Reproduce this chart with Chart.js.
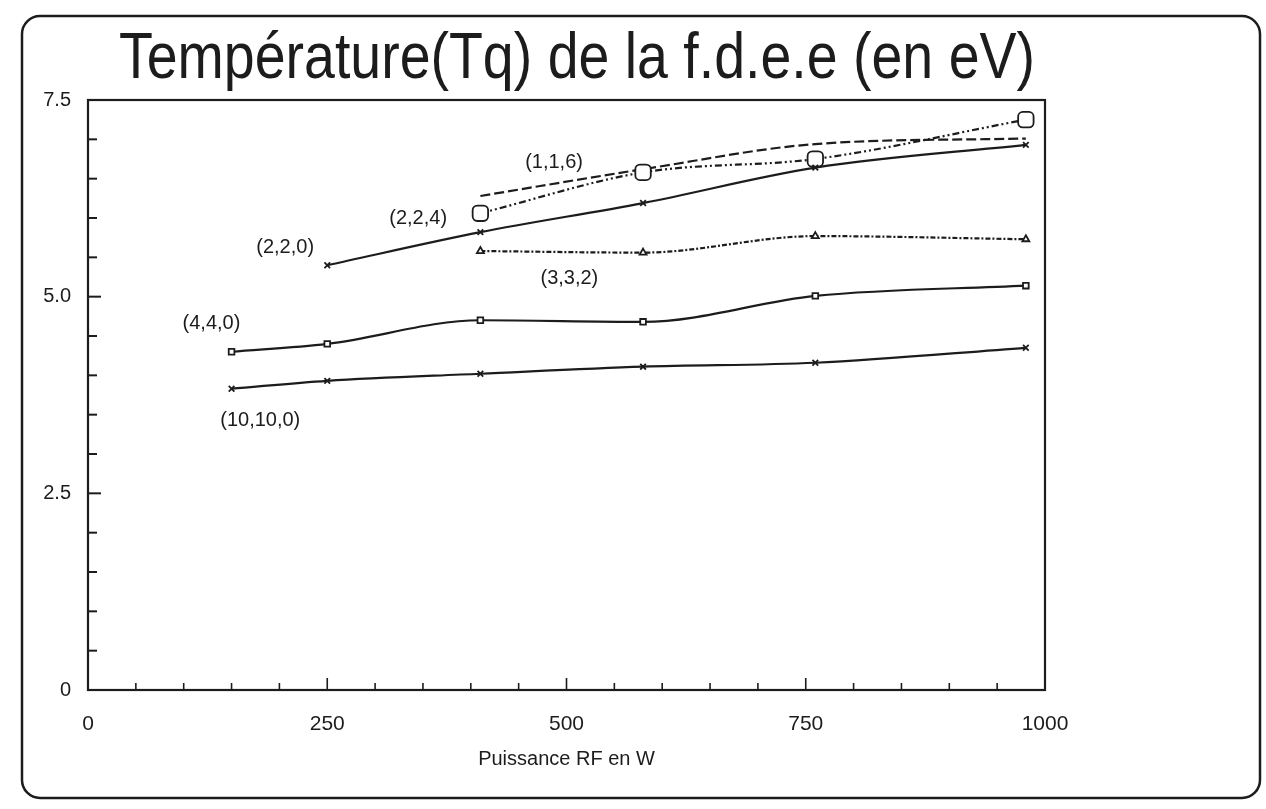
<!DOCTYPE html>
<html>
<head>
<meta charset="utf-8">
<script src="https://cdn.jsdelivr.net/npm/chart.js@4.4.1/dist/chart.umd.min.js"></script>
<style>
  html, body { margin: 0; padding: 0; background: #ffffff; }
  #wrap { width: 1266px; height: 809px; position: relative; }
</style>
</head>
<body>
<div id="wrap"><canvas id="c" width="1266" height="809"></canvas></div>
<script>
// Puissance RF (W) at which each measurement was taken
const power = [150, 250, 410, 580, 760, 980];

// Tq (eV) per discharge configuration
const tq_10_10_0 = [3.83, 3.93, 4.02, 4.11, 4.16, 4.35];
const tq_4_4_0   = [4.30, 4.40, 4.70, 4.68, 5.01, 5.14];
const tq_2_2_0   = [null, 5.40, 5.82, 6.19, 6.64, 6.93];
const tq_3_3_2   = [null, null, 5.58, 5.56, 5.77, 5.73];
const tq_2_2_4   = [null, null, 6.06, 6.58, 6.75, 7.25];
const tq_1_1_6   = [null, null, 6.28, 6.62, 6.94, 7.01];

const seriesNames = ['(10,10,0)', '(4,4,0)', '(2,2,0)', '(3,3,2)', '(2,2,4)', '(1,1,6)'];

// Where each configuration name is written, in data units (W, eV)
const labelPower = [180, 129, 206, 503, 345, 487];
const labelTq    = [3.43, 4.66, 5.62, 5.23, 5.99, 6.70];

// Axis ticks
const xMajorTicks = [0, 250, 500, 750, 1000];
const yMajorTicks = [0, 2.5, 5.0, 7.5];

const TITLE = 'Température(Tq) de la f.d.e.e (en eV)';

const INK = '#1c1c1c';
const FONT = '"Liberation Sans", "DejaVu Sans", sans-serif';

function pts(values) {
  return power.map((p, i) => ({ x: p, y: values[i] })).filter(d => d.y !== null);
}

function series(name, values, dash, style, radius) {
  return {
    label: name,
    data: pts(values),
    borderColor: INK,
    borderWidth: 2.2,
    borderDash: dash,
    pointStyle: style,
    pointRadius: radius,
    pointBorderWidth: 1.8,
    pointBorderColor: INK,
    pointBackgroundColor: 'rgba(255,255,255,1)',
    cubicInterpolationMode: 'monotone',
    fill: false,
    spanGaps: false
  };
}

// Rounded outer frame, condensed title, the plot box, inward ticks and series names
const decor = {
  id: 'decor',
  beforeDraw(chart) {
    const ctx = chart.ctx;
    ctx.save();
    ctx.fillStyle = '#ffffff';
    ctx.fillRect(0, 0, chart.width, chart.height);
    ctx.strokeStyle = INK;
    ctx.lineWidth = 2.5;
    ctx.beginPath();
    ctx.roundRect(22, 16, 1238, 782, 18);
    ctx.stroke();

    // title, squeezed horizontally into its band above the plot
    ctx.fillStyle = INK;
    ctx.font = 'normal 64px ' + FONT;
    ctx.textAlign = 'center';
    ctx.textBaseline = 'alphabetic';
    ctx.fillText(TITLE, 577, 78, 916);
    ctx.restore();
  },
  afterDatasetsDraw(chart) {
    const ctx = chart.ctx;
    const a = chart.chartArea;
    const xs = chart.scales.x, ys = chart.scales.y;
    ctx.save();
    ctx.strokeStyle = INK;
    ctx.lineWidth = 2.2;
    ctx.strokeRect(a.left, a.top, a.right - a.left, a.bottom - a.top);

    // y ticks every 0.5 eV, pointing into the plot
    ctx.lineWidth = 2;
    for (let v = 0; v <= 7.5001; v += 0.5) {
      const y = ys.getPixelForValue(v);
      const major = yMajorTicks.some(t => Math.abs(t - v) < 1e-6);
      ctx.beginPath();
      ctx.moveTo(a.left, y);
      ctx.lineTo(a.left + (major ? 13 : 9), y);
      ctx.stroke();
    }
    // x ticks every 50 W, pointing up into the plot
    ctx.lineWidth = 1.6;
    for (let v = 50; v < 1000; v += 50) {
      const x = xs.getPixelForValue(v);
      const major = xMajorTicks.includes(v);
      ctx.beginPath();
      ctx.moveTo(x, a.bottom);
      ctx.lineTo(x, a.bottom - (major ? 12 : 7));
      ctx.stroke();
    }

    // configuration names
    ctx.fillStyle = INK;
    ctx.font = '20px ' + FONT;
    ctx.textAlign = 'center';
    ctx.textBaseline = 'middle';
    seriesNames.forEach((name, i) => {
      ctx.fillText(name, xs.getPixelForValue(labelPower[i]), ys.getPixelForValue(labelTq[i]));
    });
    ctx.restore();
  }
};

new Chart(document.getElementById('c'), {
  type: 'line',
  data: {
    datasets: [
      series(seriesNames[0], tq_10_10_0, [], 'crossRot', 4),
      series(seriesNames[1], tq_4_4_0, [], 'rect', 4),
      series(seriesNames[2], tq_2_2_0, [], 'crossRot', 4),
      series(seriesNames[3], tq_3_3_2, [5, 2, 2, 2], 'triangle', 4),
      series(seriesNames[4], tq_2_2_4, [7, 3, 2, 3, 2, 3], 'rectRounded', 9),
      series(seriesNames[5], tq_1_1_6, [10, 4], false, 0)
    ]
  },
  options: {
    responsive: false,
    animation: false,
    devicePixelRatio: 1,
    layout: { padding: { top: 100, right: 221, bottom: 0, left: 0 } },
    plugins: {
      legend: { display: false },
      tooltip: { enabled: false },
      title: { display: false }
    },
    scales: {
      x: {
        type: 'linear',
        min: 0,
        max: 1000,
        afterFit(s) { s.height = 119; },
        afterBuildTicks(s) { s.ticks = xMajorTicks.map(v => ({ value: v })); },
        grid: { display: false },
        border: { display: false },
        ticks: {
          color: INK,
          font: { family: FONT, size: 21 },
          padding: 14,
          maxRotation: 0,
          callback: v => String(v)
        },
        title: {
          display: true,
          text: 'Puissance RF en W',
          color: INK,
          font: { family: FONT, size: 20 },
          padding: { top: 10, bottom: 38 }
        }
      },
      y: {
        type: 'linear',
        min: 0,
        max: 7.5,
        afterFit(s) { s.width = 88; },
        afterBuildTicks(s) { s.ticks = yMajorTicks.map(v => ({ value: v })); },
        grid: { display: false },
        border: { display: false },
        ticks: {
          color: INK,
          font: { family: FONT, size: 20 },
          padding: 9,
          callback: v => (v === 0 ? '0' : v.toFixed(1))
        }
      }
    }
  },
  plugins: [decor]
});
</script>
</body>
</html>
